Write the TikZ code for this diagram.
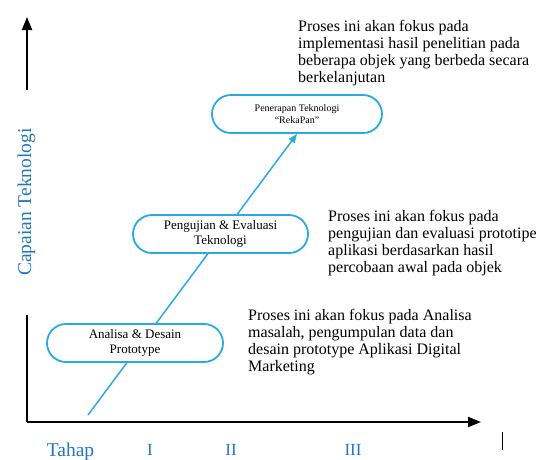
\documentclass[tikz,border=0pt]{standalone}
\usepackage{fontspec}
\setmainfont{Liberation Serif}
\usetikzlibrary{arrows.meta,backgrounds}
\definecolor{labelblue}{RGB}{35,118,192}
\definecolor{lineblue}{RGB}{41,171,226}
\begin{document}
\begin{tikzpicture}[x=1pt,y=-1pt,
  stage/.style={draw=lineblue, line width=1.8pt, fill=white, rounded corners=19pt,
    minimum height=38pt, align=center, inner sep=2pt,
    font=\fontsize{13}{15.5}\selectfont},
  desc/.style={anchor=north west, align=left, inner sep=0pt,
    font=\fontsize{16}{17}\selectfont},
  axisline/.style={line width=2pt},
  axisarrow/.style={line width=2pt, -{Triangle[length=13pt,width=10pt]}},
  axlabel/.style={text=labelblue, font=\fontsize{19.5}{22}\selectfont, inner sep=0pt, anchor=base},
  stagenum/.style={text=labelblue, font=\fontsize{17}{20}\selectfont, inner sep=0pt, anchor=base},
  ]
\useasboundingbox (0,0) rectangle (543,459);

% axes
\coordinate (O) at (27,422);
\coordinate (xend) at (481,422);
\coordinate (ytop) at (27,17);
\coordinate (ygapTop) at (27,90);
\coordinate (ygapBot) at (27,315);
\draw[axisarrow] (O) -- (xend);
\draw[axisarrow] (ygapTop) -- (ytop);
\draw[axisline] (ygapBot) -- (O);
\coordinate (barA) at (502,432);
\coordinate (barB) at (502,450);
\draw[line width=1pt] (barA) -- (barB);

% labels
\node[axlabel, rotate=90] (ylab) at (31,202) {Capaian Teknologi};
\node[axlabel] (tahap) at (70.5,456) {Tahap};
\node[stagenum] (s1) at (150,455) {I};
\node[stagenum] (s2) at (231,455) {II};
\node[stagenum] (s3) at (353,455) {III};

% stage boxes
\node[stage, minimum width=176pt] (b1) at (135,343) {Analisa \& Desain\\Prototype};
\node[stage, minimum width=175pt] (b2) at (220.5,234) {Pengujian \& Evaluasi\\Teknologi};
\node[stage, minimum width=170pt, font=\fontsize{10}{12.5}\selectfont] (b3) at (297,114) {Penerapan Teknologi\\“RekaPan”};

% progress line
\coordinate (start) at (88,415);
\begin{scope}[on background layer]
\draw[lineblue, line width=1.5pt, -{Triangle[length=9pt,width=7pt]}] (start) -- (b3.south);
\end{scope}

% descriptions
\node[desc] (d3) at (298,20) {Proses ini akan fokus pada\\implementasi hasil penelitian pada\\beberapa objek yang berbeda secara\\berkelanjutan};
\node[desc] (d2) at (328,210) {Proses ini akan fokus pada\\pengujian dan evaluasi prototipe\\aplikasi berdasarkan hasil\\percobaan awal pada objek};
\node[desc] (d1) at (248,309) {Proses ini akan fokus pada Analisa\\masalah, pengumpulan data dan\\desain prototype Aplikasi Digital\\Marketing};
\end{tikzpicture}
\end{document}
